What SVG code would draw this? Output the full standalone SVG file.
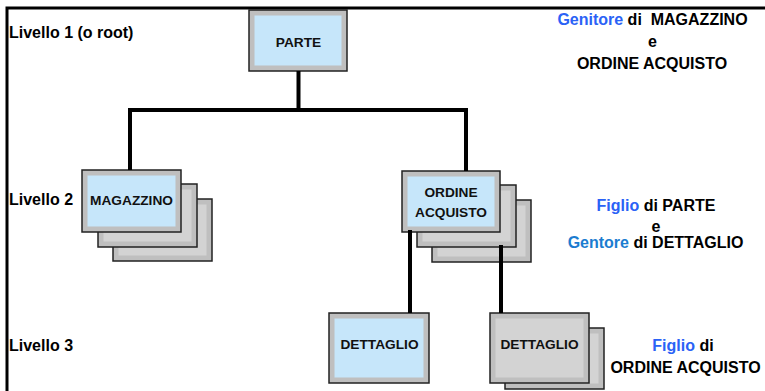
<svg xmlns="http://www.w3.org/2000/svg" width="765" height="391" viewBox="0 0 765 391">
  <style>
    text { font-family: "Liberation Sans", Arial, Helvetica, sans-serif; font-weight: bold; }
    .lbl { font-size: 13.7px; fill: #111; text-anchor: middle; }
    .lvl { font-size: 16px; fill: #000; }
    .note { font-size: 16px; fill: #000; text-anchor: middle; white-space: pre; }
    .blue { fill: #2a62f6; }
    .teal { fill: #1b7cd0; }
    .frame { stroke: #000; stroke-width: 3; fill: none; }
    .outer { stroke: #222; stroke-width: 1.5; }
    .cur { fill: #bfbfbf; }
    .in-blue { fill: #c6e6fa; }
    .in-gray { fill: #d3d3d3; }
    .conn { stroke: #000; stroke-width: 4; fill: none; stroke-linecap: butt; }
  </style>

  <!-- page frame -->
  <g id="frame">
    <path class="frame" d="M7,391 V8 H765"/>
  </g>

  <!-- level labels -->
  <g id="levels">
    <text class="lvl" x="9" y="38">Livello 1 (o root)</text>
    <text class="lvl" x="9" y="205">Livello 2</text>
    <text class="lvl" x="9" y="351">Livello 3</text>
  </g>

  <!-- root -->
  <g id="parte">
    <rect class="outer cur" x="249" y="10" width="98" height="61"/>
    <rect class="in-blue" x="254.5" y="15.5" width="87" height="50"/>
    <text class="lbl" x="298.5" y="47">PARTE</text>
  </g>

  <!-- magazzino (stacked) -->
  <g id="magazzino">
    <rect class="outer cur" x="113" y="199" width="99" height="62"/>
    <rect class="in-gray" x="118.5" y="204.5" width="88" height="51"/>
    <rect class="outer cur" x="98" y="184" width="99" height="63"/>
    <rect class="in-gray" x="103.5" y="189.5" width="88" height="52"/>
    <rect class="outer cur" x="82" y="170" width="99" height="62"/>
    <rect class="in-blue" x="87.5" y="175.5" width="88" height="51"/>
    <text class="lbl" x="131.5" y="205">MAGAZZINO</text>
  </g>

  <!-- ordine acquisto (stacked) -->
  <g id="ordine">
    <rect class="outer cur" x="432" y="200" width="99" height="62"/>
    <rect class="in-gray" x="437.5" y="205.5" width="88" height="51"/>
    <rect class="outer cur" x="417" y="185" width="99" height="62"/>
    <rect class="in-gray" x="422.5" y="190.5" width="88" height="51"/>
    <rect class="outer cur" x="402" y="171" width="98" height="61"/>
    <rect class="in-blue" x="407.5" y="176.5" width="87" height="50"/>
    <text class="lbl" x="451" y="197">ORDINE</text>
    <text class="lbl" x="451" y="217">ACQUISTO</text>
  </g>

  <!-- dettaglio (single) -->
  <g id="dettaglio1">
    <rect class="outer cur" x="329" y="313" width="100" height="70"/>
    <rect class="in-blue" x="334.5" y="318.5" width="89" height="59"/>
    <text class="lbl" x="379.5" y="349">DETTAGLIO</text>
  </g>

  <!-- dettaglio (stacked, gray) -->
  <g id="dettaglio2">
    <rect class="outer cur" x="505" y="328" width="99" height="61"/>
    <rect class="in-gray" x="510.5" y="333.5" width="88" height="50"/>
    <rect class="outer cur" x="490" y="313" width="99" height="70"/>
    <rect class="in-gray" x="495.5" y="318.5" width="88" height="59"/>
    <text class="lbl" x="539.5" y="349">DETTAGLIO</text>
  </g>

  <!-- connectors -->
  <g id="connectors">
    <path class="conn" d="M298.5,71 V110"/>
    <path class="conn" d="M130,170 V110 H466 V171"/>
    <path class="conn" d="M410,230 V313"/>
    <path class="conn" d="M501,245 V313"/>
  </g>

  <!-- annotations -->
  <g id="notes">
    <text class="note" x="652.5" y="25"><tspan class="blue">Genitore</tspan> di  MAGAZZINO</text>
    <text class="note" x="652.5" y="47">e</text>
    <text class="note" x="652" y="69">ORDINE ACQUISTO</text>

    <text class="note" x="656" y="211"><tspan class="blue">Figlio</tspan> di PARTE</text>
    <text class="note" x="656" y="232">e</text>
    <text class="note" x="655.5" y="248"><tspan class="teal">Gentore</tspan> di DETTAGLIO</text>

    <text class="note" x="683" y="351"><tspan class="blue">Figlio</tspan> di</text>
    <text class="note" x="685.5" y="373">ORDINE ACQUISTO</text>
  </g>
</svg>
